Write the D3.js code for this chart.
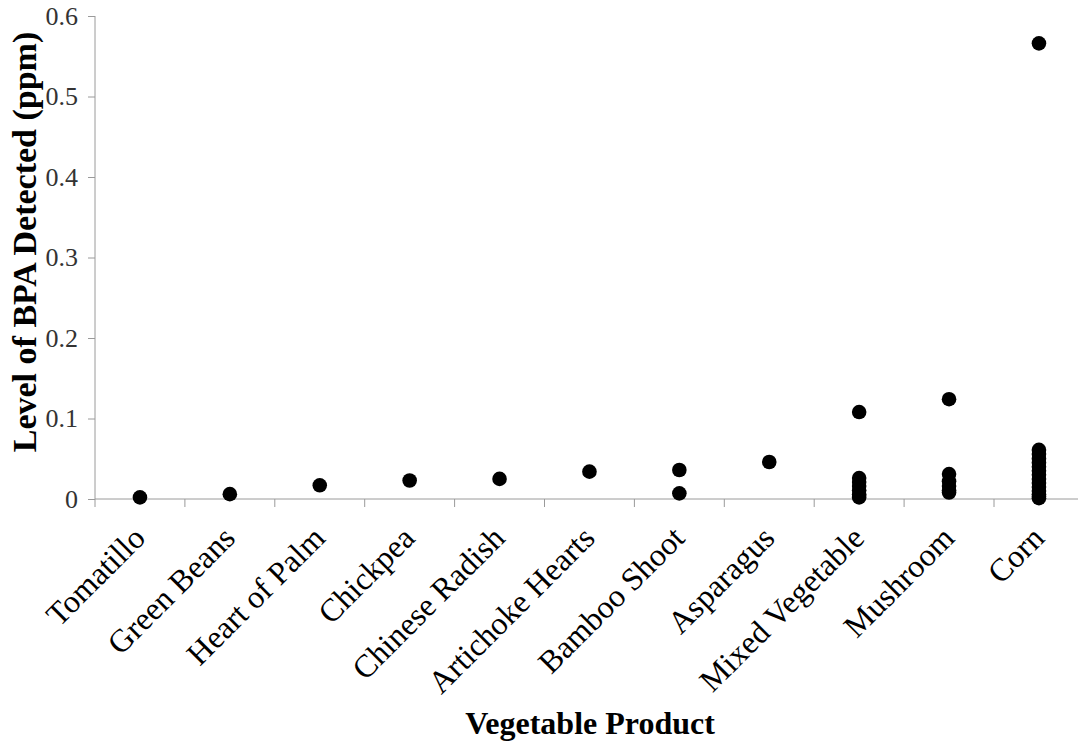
<!DOCTYPE html>
<html>
<head>
<meta charset="utf-8">
<script src="https://cdn.jsdelivr.net/npm/d3@7"></script>
<style>
  body { margin: 0; background: #fff; }
  svg { display: block; }
</style>
</head>
<body>
<div id="chart"></div>
<script>
// categories along the x axis
var categories = ["Tomatillo", "Green Beans", "Heart of Palm", "Chickpea", "Chinese Radish",
    "Artichoke Hearts", "Bamboo Shoot", "Asparagus", "Mixed Vegetable", "Mushroom", "Corn"];

// BPA level (ppm), one list per product
var tomatillo = [0.002];
var greenBeans = [0.006];
var heartOfPalm = [0.017];
var chickpea = [0.023];
var chineseRadish = [0.025];
var artichokeHearts = [0.034];
var bambooShoot = [0.036, 0.007];
var asparagus = [0.046];
var mixedVegetable = [0.108, 0.026, 0.021, 0.016, 0.011, 0.006, 0.002];
var mushroom = [0.124, 0.031, 0.022, 0.016, 0.011, 0.008];
var corn = [0.566, 0.061, 0.056, 0.050, 0.045, 0.040, 0.035, 0.030, 0.025, 0.020, 0.015, 0.010, 0.006, 0.003, 0.001];

var yTicks = [0, 0.1, 0.2, 0.3, 0.4, 0.5, 0.6];

var seriesValues = [tomatillo, greenBeans, heartOfPalm, chickpea, chineseRadish,
    artichokeHearts, bambooShoot, asparagus, mixedVegetable, mushroom, corn];

var points = [];
categories.forEach(function(c, i) {
    seriesValues[i].forEach(function(v) { points.push({cat: c, val: v}); });
});

var width = 1078, height = 744;
var plotLeft = 95, plotTop = 16, plotBottom = 499;

var svg = d3.select("#chart").append("svg")
    .attr("width", width)
    .attr("height", height);

var xScale = d3.scaleBand().domain(categories).range([plotLeft, plotLeft + 11 * 89.9]);
var yScale = d3.scaleLinear().domain([0, 0.6]).range([plotBottom, plotTop]);

var axisColor = "#9a9a9a";
var serif = "'Liberation Serif', 'Times New Roman', serif";

// y axis
var yAxis = svg.append("g")
    .attr("transform", "translate(" + plotLeft + ",0)")
    .call(d3.axisLeft(yScale).tickValues(yTicks).tickSize(7).tickPadding(10)
        .tickFormat(function(d) { return d === 0 ? "0" : d3.format(".1f")(d); }));
yAxis.select(".domain").attr("stroke", axisColor).attr("d", "M0," + plotTop + "V" + (plotBottom + 8));
yAxis.selectAll(".tick line").attr("stroke", axisColor);
yAxis.selectAll(".tick text")
    .attr("font-family", serif)
    .attr("font-size", 26)
    .attr("fill", "#333");

// x axis line with ticks at band boundaries
var xAxis = svg.append("g")
    .attr("transform", "translate(0," + plotBottom + ")")
    .call(d3.axisBottom(xScale).tickSize(0).tickFormat(""));
xAxis.select(".domain").attr("stroke", axisColor).attr("d", "M" + plotLeft + ",0H" + width);
xAxis.selectAll(".tick").remove();

xAxis.selectAll(".bound")
    .data(categories.slice(1))
    .join("line")
    .attr("class", "bound")
    .attr("x1", function(d) { return xScale(d); })
    .attr("x2", function(d) { return xScale(d); })
    .attr("y1", 0)
    .attr("y2", 8)
    .attr("stroke", axisColor);

// category labels
svg.append("g")
    .selectAll("text")
    .data(categories)
    .join("text")
    .attr("text-anchor", "end")
    .attr("font-family", serif)
    .attr("font-size", 32)
    .attr("fill", "#000")
    .attr("transform", function(d) {
        var cx = xScale(d) + xScale.bandwidth() / 2;
        return "translate(" + (cx + 7) + "," + 540 + ") rotate(-45)";
    })
    .text(function(d) { return d; });

// points
svg.append("g")
    .selectAll("circle")
    .data(points)
    .join("circle")
    .attr("cx", function(d) { return xScale(d.cat) + xScale.bandwidth() / 2; })
    .attr("cy", function(d) { return yScale(d.val); })
    .attr("r", 7.3)
    .attr("fill", "#000");

// axis titles
svg.append("text")
    .attr("text-anchor", "middle")
    .attr("font-family", serif)
    .attr("font-weight", "bold")
    .attr("font-size", 32)
    .attr("x", 590)
    .attr("y", 734)
    .text("Vegetable Product");

svg.append("text")
    .attr("text-anchor", "middle")
    .attr("font-family", serif)
    .attr("font-weight", "bold")
    .attr("font-size", 34)
    .attr("transform", "translate(36,242) rotate(-90)")
    .text("Level of BPA Detected (ppm)");
</script>
</body>
</html>
